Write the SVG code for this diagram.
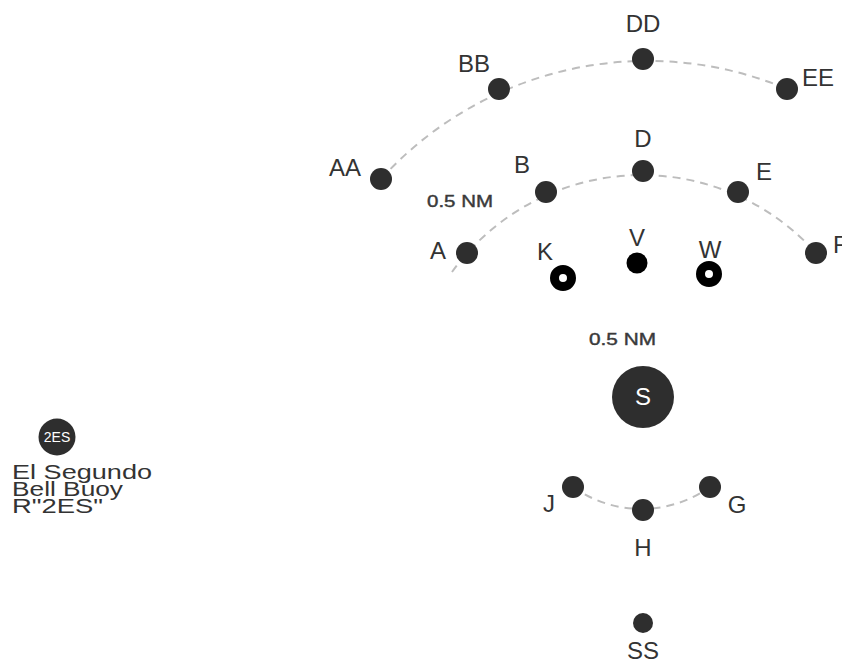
<svg xmlns="http://www.w3.org/2000/svg" width="842" height="663" viewBox="0 0 842 663">
<style>
.lbl{font-family:"Liberation Sans",Arial,sans-serif;font-size:24px;fill:#333;text-anchor:middle}
.dot{fill:#2e2e2e}
.arc{fill:none;stroke:#bdbdbd;stroke-width:2;stroke-dasharray:8 6}
.nm{font-family:"Liberation Sans",Arial,sans-serif;font-size:16px;fill:#3a3a3a;stroke:#3a3a3a;stroke-width:0.4}
.cap{font-family:"Liberation Sans",Arial,sans-serif;font-size:20px;fill:#333}
.ring{fill:#fff;stroke:#000;stroke-width:9}
</style>
<rect width="842" height="663" fill="#fff"/>
<g id="connectors">
<path class="arc" d="M381,179 A360,360 0 0 1 787,89"/>
<path class="arc" d="M452,272 A234,234 0 0 1 816,253"/>
<path class="arc" d="M573,487 A118,118 0 0 0 710,487"/>
</g>
<g id="node-DD"><circle class="dot" cx="643" cy="59" r="11"/><text class="lbl" x="643" y="32">DD</text></g>
<g id="node-BB"><circle class="dot" cx="499" cy="89" r="11"/><text class="lbl" x="474" y="72">BB</text></g>
<g id="node-EE"><circle class="dot" cx="787" cy="89" r="11"/><text class="lbl" x="818" y="86">EE</text></g>
<g id="node-AA"><circle class="dot" cx="381" cy="179" r="11"/><text class="lbl" x="345" y="176">AA</text></g>
<g id="node-D"><circle class="dot" cx="643" cy="171" r="11"/><text class="lbl" x="643" y="147">D</text></g>
<g id="node-B"><circle class="dot" cx="546" cy="192" r="11"/><text class="lbl" x="522" y="173">B</text></g>
<g id="node-E"><circle class="dot" cx="738" cy="192" r="11"/><text class="lbl" x="764" y="180">E</text></g>
<g id="node-A"><circle class="dot" cx="467" cy="253" r="11"/><text class="lbl" x="438" y="259">A</text></g>
<g id="node-F"><circle class="dot" cx="816" cy="253" r="11"/><text class="lbl" x="833" y="253" style="text-anchor:start">F</text></g>
<g id="node-K"><circle class="ring" cx="563" cy="278" r="8.5"/><text class="lbl" x="545" y="260">K</text></g>
<g id="node-V"><circle cx="637" cy="263" r="10.5" fill="#000"/><text class="lbl" x="637" y="246">V</text></g>
<g id="node-W"><circle class="ring" cx="709" cy="274" r="8.5"/><text class="lbl" x="710" y="258">W</text></g>
<text class="nm" x="427" y="207" textLength="66" lengthAdjust="spacingAndGlyphs">0.5 NM</text>
<text class="nm" x="589" y="345" textLength="67" lengthAdjust="spacingAndGlyphs">0.5 NM</text>
<g id="node-S"><circle class="dot" cx="643" cy="397" r="31"/><text class="lbl" x="643" y="405" style="fill:#fff">S</text></g>
<g id="node-J"><circle class="dot" cx="573" cy="487" r="11"/><text class="lbl" x="549" y="512">J</text></g>
<g id="node-H"><circle class="dot" cx="643" cy="510" r="11"/><text class="lbl" x="643" y="556">H</text></g>
<g id="node-G"><circle class="dot" cx="710" cy="487" r="11"/><text class="lbl" x="737" y="513">G</text></g>
<g id="node-SS"><circle class="dot" cx="643" cy="623" r="10"/><text class="lbl" x="643" y="659">SS</text></g>
<g id="node-2ES"><circle class="dot" cx="57" cy="437" r="18.5"/><text x="57" y="442" style="font-family:'Liberation Sans',Arial,sans-serif;font-size:14px;fill:#fff;text-anchor:middle">2ES</text>
<text class="cap" x="12" y="479" textLength="140" lengthAdjust="spacingAndGlyphs">El Segundo</text>
<text class="cap" x="12" y="496" textLength="111" lengthAdjust="spacingAndGlyphs">Bell Buoy</text>
<text class="cap" x="12" y="513" textLength="91" lengthAdjust="spacingAndGlyphs">R"2ES"</text></g>
</svg>
